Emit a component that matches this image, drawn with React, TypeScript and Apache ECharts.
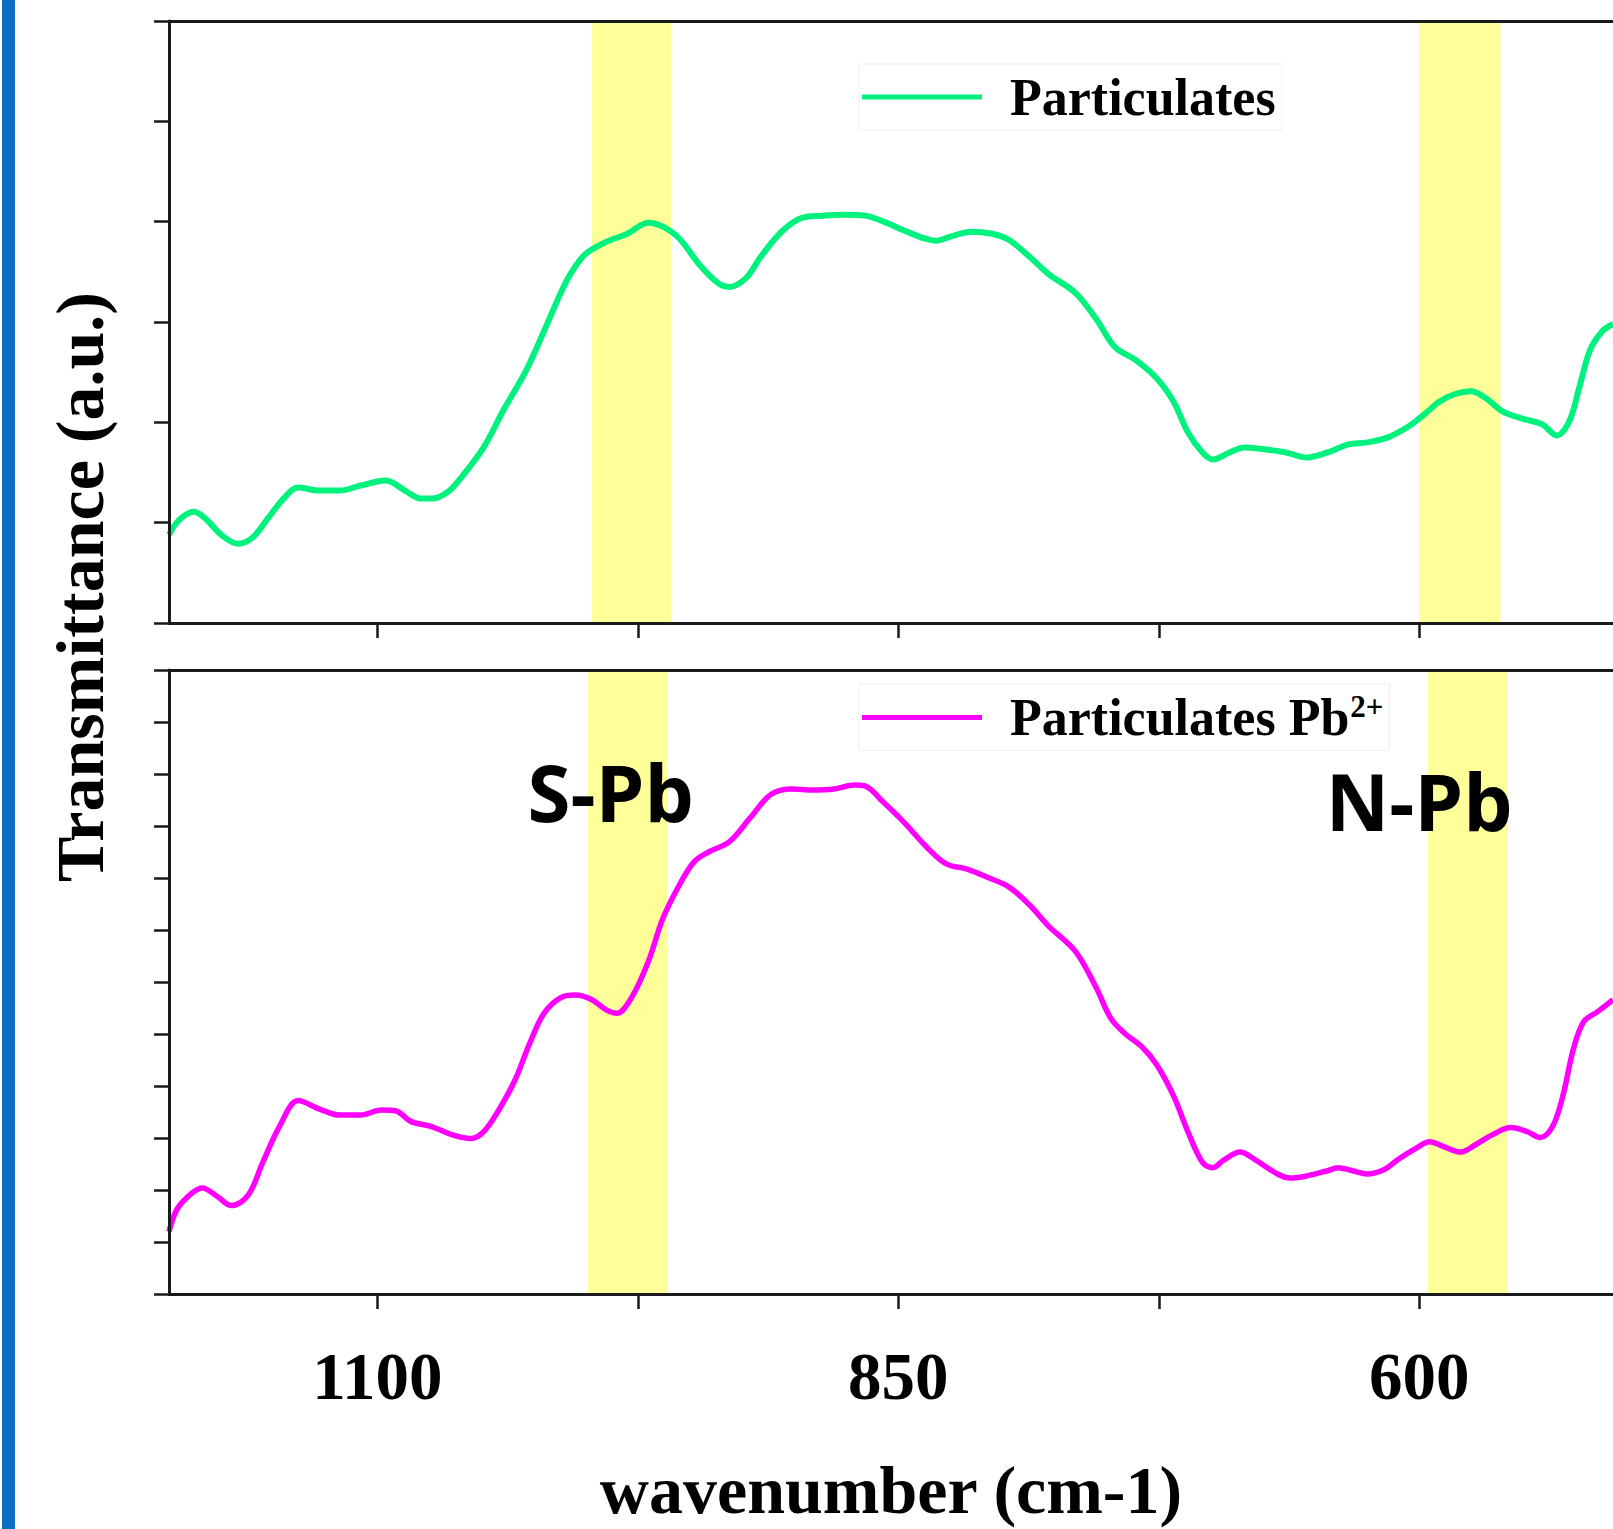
import React, { useEffect, useRef } from "react";
import * as echarts from "echarts";

// ---- data (wavenumber in cm-1, transmittance in a.u.) ----
const xTickValues = [1100, 975, 850, 725, 600];
const xLabelValues = [1100, 850, 600];

const particulatesX = [
  1200, 1195, 1188, 1182, 1175, 1167, 1160, 1153, 1145, 1138, 1128, 1118, 1108, 1096, 1086, 1079, 1074, 1066,
  1059, 1049, 1039, 1029, 1020, 1012, 1007, 1000, 990, 980, 970, 963, 955, 945, 936, 931, 923, 916, 906, 896,
  886, 876, 866, 857, 847, 837, 832, 825, 815, 805, 797, 787, 778, 765, 755, 746, 736, 726, 718, 711, 704, 699,
  691, 684, 674, 664, 654, 644, 634, 625, 615, 605, 597, 590, 583, 575, 568, 560, 551, 541, 534, 528, 523, 518,
  512, 507,
];
const particulatesY = [
  0.88, 1.03, 1.11, 1.03, 0.88, 0.79, 0.85, 1.03, 1.24, 1.35, 1.32, 1.32, 1.37, 1.42, 1.31, 1.24, 1.24, 1.31,
  1.47, 1.75, 2.14, 2.5, 2.91, 3.29, 3.49, 3.68, 3.8, 3.88, 3.99, 3.95, 3.83, 3.56, 3.38, 3.35, 3.44, 3.65, 3.9,
  4.04, 4.06, 4.07, 4.06, 4.0, 3.91, 3.83, 3.81, 3.85, 3.9, 3.88, 3.82, 3.65, 3.48, 3.29, 3.03, 2.75, 2.62, 2.44,
  2.21, 1.9, 1.7, 1.63, 1.7, 1.75, 1.73, 1.7, 1.65, 1.7, 1.78, 1.8, 1.85, 1.96, 2.09, 2.21, 2.28, 2.31, 2.24,
  2.11, 2.04, 1.98, 1.87, 2.01, 2.36, 2.72, 2.91, 2.98,
];

const leadX = [
  1200, 1196, 1189, 1184, 1177, 1170, 1162, 1155, 1147, 1138, 1128, 1118, 1108, 1098, 1091, 1084, 1074, 1064,
  1055, 1049, 1042, 1034, 1027, 1020, 1012, 1005, 997, 990, 985, 978, 970, 963, 955, 948, 941, 931, 921, 911,
  901, 891, 881, 871, 866, 857, 847, 837, 827, 817, 807, 797, 787, 778, 765, 755, 748, 741, 733, 726, 718, 711,
  704, 699, 694, 686, 679, 669, 662, 654, 644, 639, 632, 625, 617, 610, 602, 595, 588, 580, 573, 565, 556, 548,
  542, 536, 531, 526, 521, 514, 507,
];
const leadY = [
  1.2, 1.64, 1.94, 2.04, 1.88, 1.7, 1.9, 2.53, 3.22, 3.72, 3.56, 3.44, 3.44, 3.54, 3.52, 3.32, 3.22, 3.06, 2.99,
  3.12, 3.52, 4.11, 4.81, 5.4, 5.7, 5.75, 5.66, 5.46, 5.4, 5.7, 6.39, 7.22, 7.87, 8.31, 8.5, 8.7, 9.16, 9.61,
  9.71, 9.69, 9.71, 9.79, 9.77, 9.45, 9.06, 8.62, 8.27, 8.17, 8.01, 7.83, 7.48, 7.08, 6.59, 5.89, 5.3, 5.0,
  4.75, 4.41, 3.82, 3.12, 2.53, 2.43, 2.57, 2.73, 2.59, 2.33, 2.23, 2.27, 2.37, 2.43, 2.37, 2.31, 2.39, 2.59,
  2.79, 2.93, 2.83, 2.73, 2.87, 3.06, 3.2, 3.12, 3.01, 3.22, 3.82, 4.71, 5.24, 5.44, 5.66,
];

const bandsTop = [
  [997, 959],
  [600, 561],
];
const bandsBottom = [
  [999, 961],
  [596, 557.5],
];

const annotationNames = ["S-Pb", "N-Pb"];
const annotationX = [988, 600];
const annotationY = [9.65, 9.48];

const seriesNames = ["Particulates", "Particulates Pb2+"];

export default function App() {
  const ref = useRef<HTMLDivElement>(null);

  useEffect(() => {
    document.body.style.margin = "0";
    const chart = echarts.init(ref.current!, undefined, { renderer: "svg" });
    const serif = '"Liberation Serif", "Times New Roman", serif';
    const axisColor = "#1a1a1a";
    const lineStyle = { color: axisColor, width: 3 };

    const xBase = {
      type: "value",
      inverse: true,
      min: 507,
      max: 1200,
      splitLine: { show: false },
      z: 5,
    };
    const xBottom = (gridIndex: number, withLabels: boolean) => ({
      ...xBase,
      gridIndex,
      position: "bottom",
      axisLine: { show: true, onZero: false, lineStyle },
      axisTick: {
        show: true,
        inside: false,
        length: 15,
        lineStyle: { color: axisColor, width: 2.5 },
        customValues: xTickValues,
      },
      axisLabel: withLabels
        ? {
            show: true,
            customValues: xLabelValues,
            formatter: (v: number) => String(Math.round(v)),
            margin: 48,
            fontFamily: serif,
            fontWeight: "bold",
            fontSize: 67,
            color: "#000",
          }
        : { show: false },
    });
    const xTop = (gridIndex: number) => ({
      ...xBase,
      gridIndex,
      position: "top",
      axisLine: { show: true, onZero: false, lineStyle },
      axisTick: { show: false },
      axisLabel: { show: false },
    });
    const yBase = (gridIndex: number, max: number) => ({
      type: "value",
      gridIndex,
      min: 0,
      max,
      interval: 1,
      axisLine: { show: true, onZero: false, lineStyle },
      axisTick: { show: true, inside: false, length: 15, lineStyle: { color: axisColor, width: 2.5 } },
      axisLabel: { show: false },
      splitLine: { show: false },
      z: 5,
    });

    const legendText = {
      fontFamily: serif,
      fontWeight: "bold",
      fontSize: 52,
      color: "#000",
      padding: [0, 0, 0, 23],
    };

    const option: any = {
      animation: false,
      backgroundColor: "#fff",
      graphic: [
        {
          type: "rect",
          shape: { x: 2, y: 0, width: 13, height: 1529 },
          style: { fill: "#0A6EC2" },
          silent: true,
        },
        {
          type: "text",
          x: 80,
          y: 587,
          rotation: Math.PI / 2,
          style: {
            text: "Transmittance (a.u.)",
            font: 'bold 68px "Liberation Serif"',
            align: "center",
            verticalAlign: "middle",
            fill: "#000",
          },
        },
      ],
      grid: [
        { left: 169, top: 21, right: 0, height: 602 },
        { left: 169, top: 670, right: 0, height: 624 },
      ],
      legend: [
        {
          data: [seriesNames[0]],
          left: 859,
          top: 64,
          icon: "rect",
          itemWidth: 120,
          itemHeight: 5,
          padding: [7, 6, 7, 3],
          borderColor: "#efefef",
          borderWidth: 1,
          selectedMode: false,
          textStyle: legendText,
        },
        {
          data: [seriesNames[1]],
          left: 859,
          top: 684,
          icon: "rect",
          itemWidth: 120,
          itemHeight: 5,
          padding: [7, 6, 7, 3],
          borderColor: "#efefef",
          borderWidth: 1,
          selectedMode: false,
          formatter: () => "Particulates Pb{sup|2+}",
          textStyle: {
            ...legendText,
            rich: {
              sup: {
                fontFamily: serif,
                fontWeight: "bold",
                fontSize: 31,
                color: "#000",
                verticalAlign: "top",
                padding: [0, 0, 22, 1],
              },
            },
          },
        },
      ],
      xAxis: [
        xBottom(0, false),
        xTop(0),
        {
          ...xBottom(1, true),
          name: "wavenumber (cm-1)",
          nameLocation: "middle",
          nameGap: 162,
          nameTextStyle: { fontFamily: serif, fontWeight: "bold", fontSize: 68, color: "#000" },
        },
        xTop(1),
      ],
      yAxis: [yBase(0, 6), yBase(1, 12)],
      series: [
        {
          name: seriesNames[0],
          type: "line",
          xAxisIndex: 0,
          yAxisIndex: 0,
          data: particulatesX.map((x, i) => [x, particulatesY[i]]),
          showSymbol: false,
          symbol: "none",
          smooth: 0.35,
          color: "#00F27E",
          lineStyle: { color: "#00F27E", width: 6 },
          itemStyle: { color: "#00F27E" },
          markArea: {
            silent: true,
            itemStyle: { color: "#FFFF99", opacity: 1 },
            data: bandsTop.map((b) => [{ xAxis: b[0] }, { xAxis: b[1] }]),
          },
        },
        {
          name: seriesNames[1],
          type: "line",
          xAxisIndex: 2,
          yAxisIndex: 1,
          data: leadX.map((x, i) => [x, leadY[i]]),
          showSymbol: false,
          symbol: "none",
          smooth: 0.35,
          color: "#FF00FF",
          lineStyle: { color: "#FF00FF", width: 5.5 },
          itemStyle: { color: "#FF00FF" },
          markArea: {
            silent: true,
            itemStyle: { color: "#FFFF99", opacity: 1 },
            data: bandsBottom.map((b) => [{ xAxis: b[0] }, { xAxis: b[1] }]),
          },
          markPoint: {
            silent: true,
            symbol: "rect",
            symbolSize: 0,
            label: {
              show: true,
              position: "inside",
              formatter: (p: any) => p.name,
              fontFamily: '"Open Sans", "Noto Sans", sans-serif',
              fontWeight: "bold",
              fontSize: 78,
              color: "#000",
            },
            data: annotationNames.map((n, i) => ({ name: n, coord: [annotationX[i], annotationY[i]] })),
          },
        },
      ],
    };

    chart.setOption(option);
    return () => chart.dispose();
  }, []);

  return (
    <div
      ref={ref}
      style={{ position: "fixed", left: 0, top: 0, width: 1613, height: 1529, background: "#fff" }}
    />
  );
}
